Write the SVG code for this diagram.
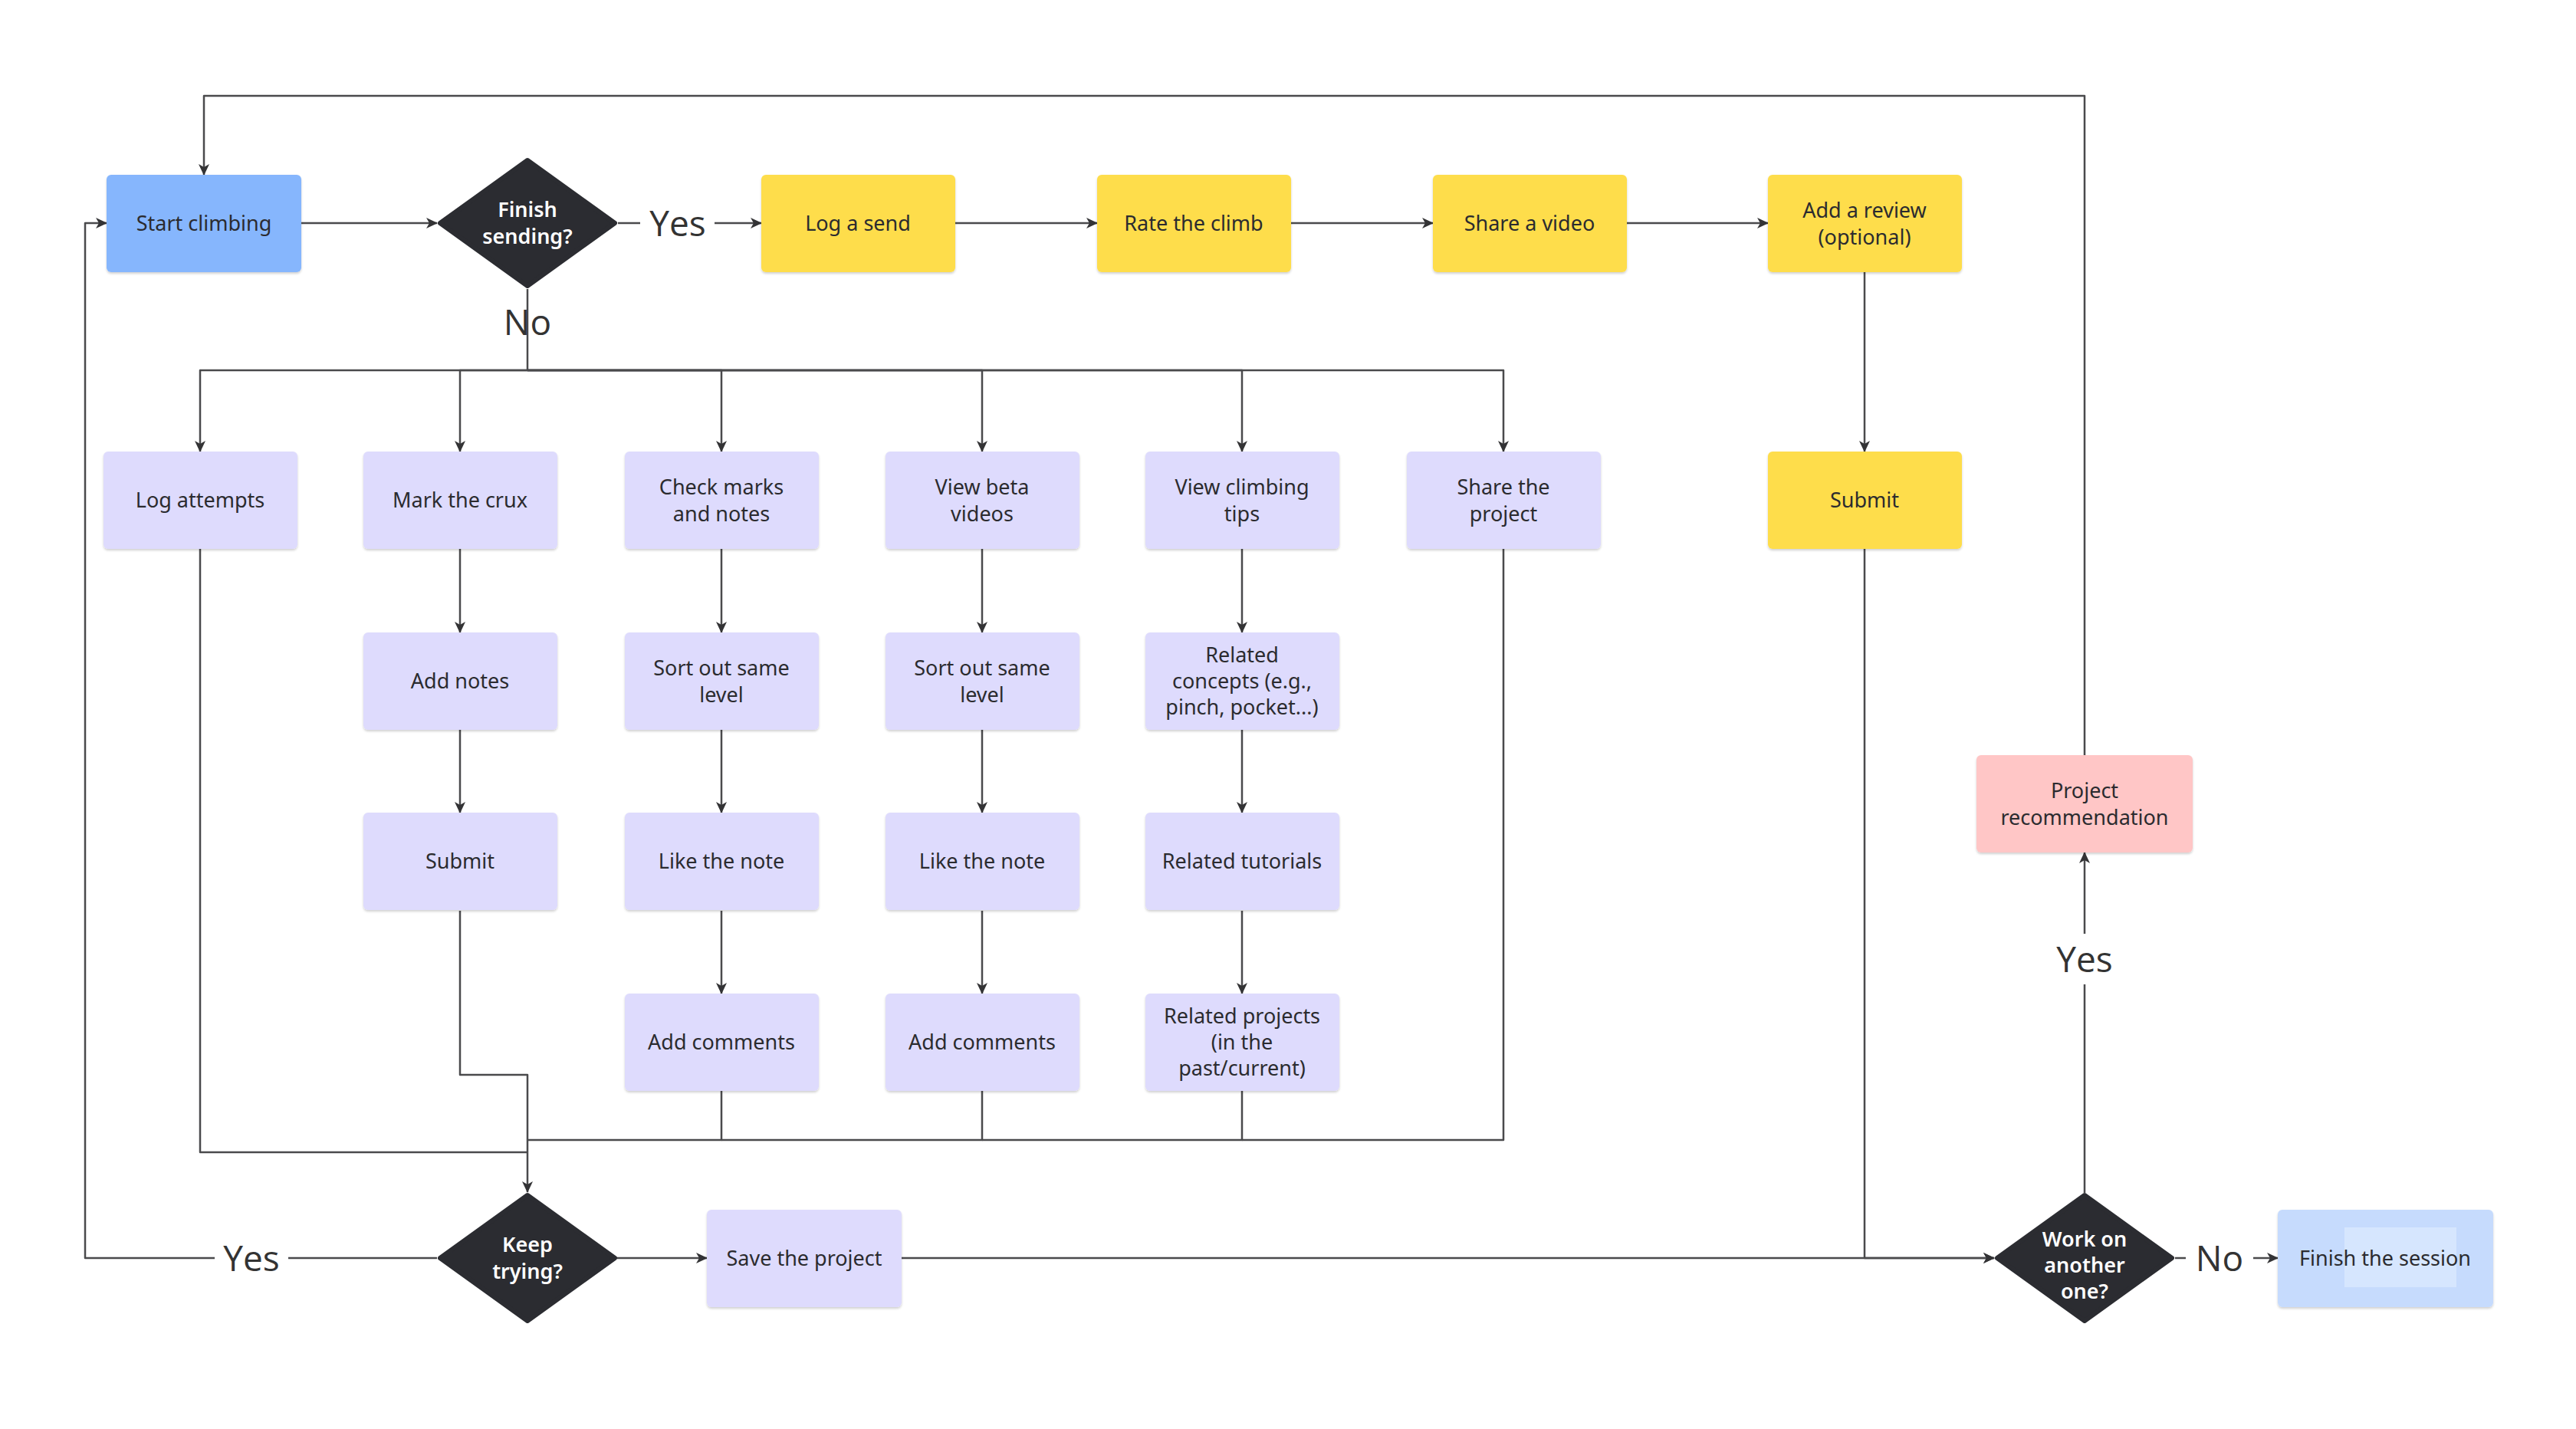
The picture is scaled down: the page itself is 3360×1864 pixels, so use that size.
<svg xmlns="http://www.w3.org/2000/svg" width="3360" height="1864" viewBox="0 0 3360 1864">
<style>
.n{font-family:"Noto Sans","Open Sans","Liberation Sans",sans-serif;font-size:27px;fill:#2b2b2f;text-anchor:middle}
.d{font-family:"Noto Sans","Open Sans","Liberation Sans",sans-serif;font-size:27px;font-weight:600;fill:#ffffff;text-anchor:middle}
.lbl{font-family:"Open Sans","Noto Sans","Liberation Sans",sans-serif;font-size:46px;fill:#333333;text-anchor:middle}
.blue{fill:#86b6fd}
.yel{fill:#fedd4c}
.lav{fill:#dedbfd}
.pink{fill:#ffc6c6}
.lblue{fill:#c6dbfd}
.dia{fill:#2b2c31;stroke:#2b2c31;stroke-width:6;stroke-linejoin:round}
.c{fill:none;stroke:#4a4a4c;stroke-width:2.5;stroke-linejoin:round}
.a{marker-end:url(#arr)}
</style>
<defs>
<marker id="arr" markerWidth="16" markerHeight="14" refX="14" refY="7" orient="auto" markerUnits="userSpaceOnUse">
<path d="M0,0 L15,7 L0,14 L4,7 z" fill="#333335"/>
</marker>
<filter id="sh" x="-5%" y="-5%" width="110%" height="115%">
<feDropShadow dx="0" dy="2" stdDeviation="1.5" flood-color="#000" flood-opacity="0.18"/>
</filter>
</defs>
<rect width="3360" height="1864" fill="#ffffff"/>

<g id="connectors">
<path class="c a" d="M392,291 H570"/>
<path class="c" d="M806,291 H835"/>
<path class="c a" d="M932,291 H993"/>
<path class="c a" d="M1246,291 H1431"/>
<path class="c a" d="M1684,291 H1869"/>
<path class="c a" d="M2122,291 H2306"/>
<path class="c a" d="M2432,355 V589"/>
<path class="c a" d="M2432,716 V1641 H2601"/>
<path class="c" d="M688,377 V483"/>
<path class="c a" d="M688,483 H261 V589"/>
<path class="c a" d="M688,483 H600 V589"/>
<path class="c a" d="M688,483 H941 V589"/>
<path class="c a" d="M688,483 H1281 V589"/>
<path class="c a" d="M688,483 H1620 V589"/>
<path class="c a" d="M688,483 H1961 V589"/>
<path class="c a" d="M600,716 V825"/>
<path class="c a" d="M600,952 V1060"/>
<path class="c a" d="M941,716 V825"/>
<path class="c a" d="M941,952 V1060"/>
<path class="c a" d="M941,1188 V1296"/>
<path class="c a" d="M1281,716 V825"/>
<path class="c a" d="M1281,952 V1060"/>
<path class="c a" d="M1281,1188 V1296"/>
<path class="c a" d="M1620,716 V825"/>
<path class="c a" d="M1620,952 V1060"/>
<path class="c a" d="M1620,1188 V1296"/>
<path class="c" d="M261,716 V1503 H688"/>
<path class="c a" d="M600,1188 V1402 H688 V1555"/>
<path class="c" d="M941,1423 V1487 H688"/>
<path class="c" d="M1281,1423 V1487 H941"/>
<path class="c" d="M1620,1423 V1487 H1281"/>
<path class="c" d="M1961,716 V1487 H1620"/>
<path class="c a" d="M805,1641 H922"/>
<path class="c" d="M570,1641 H376"/>
<path class="c a" d="M280,1641 H111 V291 H139"/>
<path class="c a" d="M1176,1641 H2601"/>
<path class="c" d="M2719,1556 V1284"/>
<path class="c a" d="M2719,1218 V1112"/>
<path class="c a" d="M2719,985 V125 H266 V228"/>
<path class="c" d="M2837,1641 H2851"/>
<path class="c a" d="M2939,1641 H2971"/>
<text class="lbl" x="884" y="308">Yes</text>
<text class="lbl" x="688" y="437">No</text>
<text class="lbl" x="328" y="1658">Yes</text>
<text class="lbl" x="2719" y="1268">Yes</text>
<text class="lbl" x="2895" y="1658">No</text>
</g>

<g id="start-climbing"><rect class="blue" filter="url(#sh)" x="139" y="228" width="254" height="127" rx="6"/><text class="n" x="266" y="301">Start climbing</text></g>
<g id="finish-sending"><polygon class="dia" points="688,209 802,291 688,373 574,291"/><text class="d" x="688" y="283">Finish</text><text class="d" x="688" y="318">sending?</text></g>
<g id="log-send"><rect class="yel" filter="url(#sh)" x="993" y="228" width="253" height="127" rx="6"/><text class="n" x="1119" y="301">Log a send</text></g>
<g id="rate-climb"><rect class="yel" filter="url(#sh)" x="1431" y="228" width="253" height="127" rx="6"/><text class="n" x="1557" y="301">Rate the climb</text></g>
<g id="share-video"><rect class="yel" filter="url(#sh)" x="1869" y="228" width="253" height="127" rx="6"/><text class="n" x="1995" y="301">Share a video</text></g>
<g id="add-review"><rect class="yel" filter="url(#sh)" x="2306" y="228" width="253" height="127" rx="6"/><text class="n" x="2432" y="284">Add a review</text><text class="n" x="2432" y="319">(optional)</text></g>
<g id="submit-review"><rect class="yel" filter="url(#sh)" x="2306" y="589" width="253" height="127" rx="6"/><text class="n" x="2432" y="662">Submit</text></g>

<g id="log-attempts"><rect class="lav" filter="url(#sh)" x="135" y="589" width="253" height="127" rx="6"/><text class="n" x="261" y="662">Log attempts</text></g>
<g id="mark-crux"><rect class="lav" filter="url(#sh)" x="474" y="589" width="253" height="127" rx="6"/><text class="n" x="600" y="662">Mark the crux</text></g>
<g id="check-marks"><rect class="lav" filter="url(#sh)" x="815" y="589" width="253" height="127" rx="6"/><text class="n" x="941" y="645">Check marks</text><text class="n" x="941" y="680">and notes</text></g>
<g id="view-beta"><rect class="lav" filter="url(#sh)" x="1155" y="589" width="253" height="127" rx="6"/><text class="n" x="1281" y="645">View beta</text><text class="n" x="1281" y="680">videos</text></g>
<g id="view-tips"><rect class="lav" filter="url(#sh)" x="1494" y="589" width="253" height="127" rx="6"/><text class="n" x="1620" y="645">View climbing</text><text class="n" x="1620" y="680">tips</text></g>
<g id="share-project"><rect class="lav" filter="url(#sh)" x="1835" y="589" width="253" height="127" rx="6"/><text class="n" x="1961" y="645">Share the</text><text class="n" x="1961" y="680">project</text></g>

<g id="add-notes"><rect class="lav" filter="url(#sh)" x="474" y="825" width="253" height="127" rx="6"/><text class="n" x="600" y="898">Add notes</text></g>
<g id="sort-level-1"><rect class="lav" filter="url(#sh)" x="815" y="825" width="253" height="127" rx="6"/><text class="n" x="941" y="881">Sort out same</text><text class="n" x="941" y="916">level</text></g>
<g id="sort-level-2"><rect class="lav" filter="url(#sh)" x="1155" y="825" width="253" height="127" rx="6"/><text class="n" x="1281" y="881">Sort out same</text><text class="n" x="1281" y="916">level</text></g>
<g id="related-concepts"><rect class="lav" filter="url(#sh)" x="1494" y="825" width="253" height="127" rx="6"/><text class="n" x="1620" y="864">Related</text><text class="n" x="1620" y="898">concepts (e.g.,</text><text class="n" x="1620" y="932">pinch, pocket...)</text></g>

<g id="submit-notes"><rect class="lav" filter="url(#sh)" x="474" y="1060" width="253" height="127" rx="6"/><text class="n" x="600" y="1133">Submit</text></g>
<g id="like-note-1"><rect class="lav" filter="url(#sh)" x="815" y="1060" width="253" height="127" rx="6"/><text class="n" x="941" y="1133">Like the note</text></g>
<g id="like-note-2"><rect class="lav" filter="url(#sh)" x="1155" y="1060" width="253" height="127" rx="6"/><text class="n" x="1281" y="1133">Like the note</text></g>
<g id="related-tutorials"><rect class="lav" filter="url(#sh)" x="1494" y="1060" width="253" height="127" rx="6"/><text class="n" x="1620" y="1133">Related tutorials</text></g>

<g id="add-comments-1"><rect class="lav" filter="url(#sh)" x="815" y="1296" width="253" height="127" rx="6"/><text class="n" x="941" y="1369">Add comments</text></g>
<g id="add-comments-2"><rect class="lav" filter="url(#sh)" x="1155" y="1296" width="253" height="127" rx="6"/><text class="n" x="1281" y="1369">Add comments</text></g>
<g id="related-projects"><rect class="lav" filter="url(#sh)" x="1494" y="1296" width="253" height="127" rx="6"/><text class="n" x="1620" y="1335">Related projects</text><text class="n" x="1620" y="1369">(in the</text><text class="n" x="1620" y="1403">past/current)</text></g>

<g id="keep-trying"><polygon class="dia" points="688,1559 802,1641 688,1723 574,1641"/><text class="d" x="688" y="1633">Keep</text><text class="d" x="688" y="1668">trying?</text></g>
<g id="save-project"><rect class="lav" filter="url(#sh)" x="922" y="1578" width="254" height="127" rx="6"/><text class="n" x="1049" y="1651">Save the project</text></g>
<g id="work-another"><polygon class="dia" points="2719,1559 2833,1641 2719,1723 2605,1641"/><text class="d" x="2719" y="1626">Work on</text><text class="d" x="2719" y="1660">another</text><text class="d" x="2719" y="1694">one?</text></g>
<g id="project-recommendation"><rect class="pink" filter="url(#sh)" x="2578" y="985" width="282" height="127" rx="6"/><text class="n" x="2719" y="1041">Project</text><text class="n" x="2719" y="1076">recommendation</text></g>
<g id="finish-session"><rect class="lblue" filter="url(#sh)" x="2971" y="1578" width="281" height="127" rx="6"/><rect x="3058" y="1601" width="146" height="78" fill="#d6e6fe"/><text class="n" x="3111" y="1651">Finish the session</text></g>
</svg>
